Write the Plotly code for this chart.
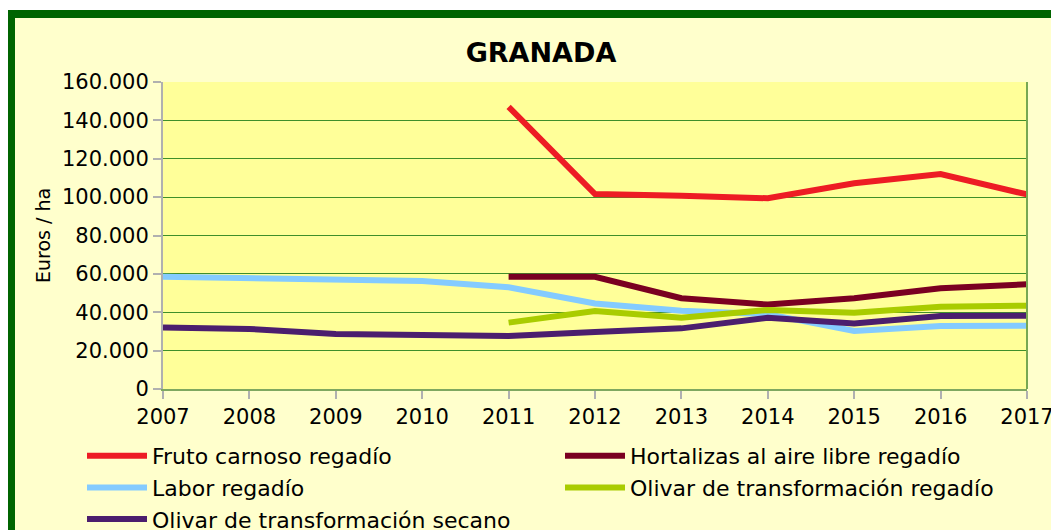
import plotly.graph_objects as go

years = [2007, 2008, 2009, 2010, 2011, 2012, 2013, 2014, 2015, 2016, 2017]
fruto_carnoso = [None, None, None, None, 147000, 101600, 100700, 99400, 107200, 112000, 101400]
hortalizas = [None, None, None, None, 58500, 58500, 47300, 44000, 47300, 52500, 54600]
labor = [58500, 57700, 57300, 56300, 53000, 44600, 40800, 39000, 30200, 32800, 33000]
olivar_regadio = [None, None, None, None, 34600, 40600, 37200, 41200, 39800, 42900, 43400]
olivar_secano = [32100, 31300, 28700, 28000, 27600, 29700, 31600, 37100, 34200, 38000, 38200]

names = ["Fruto carnoso regadío", "Hortalizas al aire libre regadío", "Labor regadío",
         "Olivar de transformación regadío", "Olivar de transformación secano"]
series = [fruto_carnoso, hortalizas, labor, olivar_regadio, olivar_secano]
colors = ["#ED1C24", "#7A0021", "#84CBFF", "#A9CC00", "#4B1E6E"]

# page body adds an 8px margin; figure sized to fit the window
OFF = 8
W, H = 1059 - OFF, 530 - OFF
# plot area in reference (window) pixels
X0, X1, Y0, Y1 = 163, 1027, 82, 389
L, T = X0 - OFF, Y0 - OFF
R, B = W - (X1 - OFF), H - (Y1 - OFF)
pw, ph = X1 - X0, Y1 - Y0

def px(x):
    return (x - X0) / pw

def py(y):
    return (Y1 - y) / ph

fig = go.Figure()
for n, s, c in zip(names, series, colors):
    fig.add_trace(go.Scatter(x=years, y=s, name=n, mode="lines",
                             line=dict(color=c, width=6), connectgaps=False))

font = "DejaVu Sans"
ITEMW = 60
fig.update_layout(
    width=W, height=H,
    margin=dict(l=L, r=R, t=T, b=B, autoexpand=False),
    paper_bgcolor="#FFFFCC",
    plot_bgcolor="#FFFF99",
    separators=",.",
    font=dict(family=font, color="#000000", size=20),
    title=dict(text="<b>GRANADA</b>", x=(541 - OFF) / W, xanchor="center",
               y=1 - (53 - OFF) / H, yanchor="middle",
               font=dict(family=font, size=27, color="#000000")),
    showlegend=True,
    legend=dict(orientation="h", x=px(82), y=py(435), xanchor="left", yanchor="top",
                entrywidth=478 - (ITEMW + 10) - 5, entrywidthmode="pixels",
                bgcolor="rgba(0,0,0,0)",
                font=dict(family=font, size=22), itemwidth=ITEMW, tracegroupgap=0),
    shapes=[
        dict(type="rect", xref="paper", yref="paper", x0=px(-5), x1=px(1070), y0=py(0), y1=py(10),
             fillcolor="#FFFFFF", line=dict(width=0), layer="below"),
        dict(type="rect", xref="paper", yref="paper", x0=px(-5), x1=px(7), y0=py(0), y1=py(540),
             fillcolor="#FFFFFF", line=dict(width=0), layer="below"),
        dict(type="rect", xref="paper", yref="paper", x0=px(11), x1=px(1058), y0=py(14), y1=py(540),
             line=dict(color="#006400", width=8), fillcolor="rgba(0,0,0,0)"),
        dict(type="line", xref="paper", yref="paper", x0=1, x1=1, y0=0, y1=1,
             line=dict(color="#77A853", width=2)),
    ],
)
fig.update_xaxes(range=[2007, 2017], tickmode="array", tickvals=years,
                 ticktext=[str(y) for y in years], showgrid=False, zeroline=False,
                 showline=True, linecolor="#7FA860", linewidth=2,
                 ticks="outside", ticklen=8, tickcolor="#B0B0B0", tickwidth=2,
                 tickfont=dict(family=font, size=21))
fig.update_yaxes(range=[0, 160000], tickmode="array",
                 tickvals=[0, 20000, 40000, 60000, 80000, 100000, 120000, 140000, 160000],
                 tickformat=",.0f", showgrid=True, gridcolor="#3F8F2A", gridwidth=1,
                 zeroline=False, showline=True, linecolor="#B0B0B0", linewidth=2,
                 ticks="outside", ticklen=8, tickcolor="#B0B0B0", tickwidth=2,
                 tickfont=dict(family=font, size=21),
                 title=dict(text="Euros / ha", font=dict(family=font, size=19), standoff=6))

fig.write_html("out.html")
